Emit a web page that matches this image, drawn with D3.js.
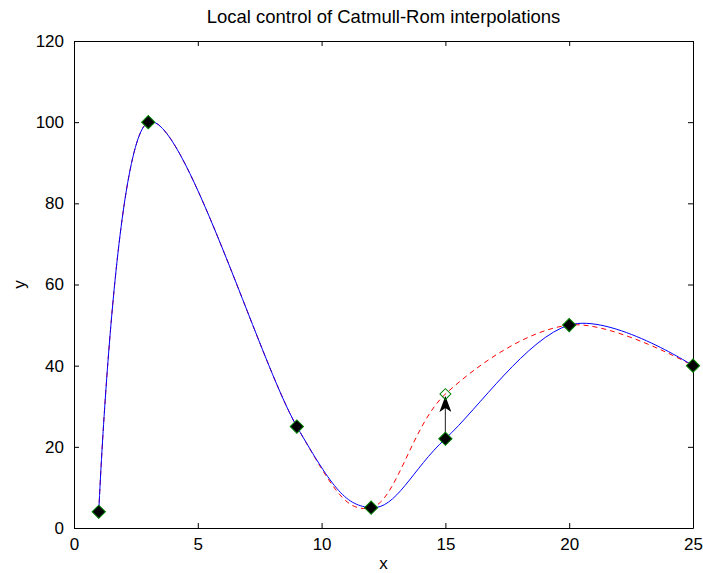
<!DOCTYPE html>
<html>
<head>
<meta charset="utf-8">
<script src="https://cdn.jsdelivr.net/npm/d3@7"></script>
<style>
    body { margin: 0; background: #fff; }
    text { font-family: Arial, "Liberation Sans", sans-serif; fill: #000; }
    .axis path, .axis line { stroke: #000; }
</style>
</head>
<body>
<svg id="chart" width="703" height="573"></svg>
<script>
// control points of the interpolation
const xs = [1, 3, 9, 12, 15, 20, 25];
const ys = [4, 100, 25, 5, 22, 50, 40];
// the same points after moving the fifth one up
const ysMoved = [4, 100, 25, 5, 33, 50, 40];
const movedIndex = 4;

const xTicks = [0, 5, 10, 15, 20, 25];
const yTicks = [0, 20, 40, 60, 80, 100, 120];

const svg = d3.select('#chart');
const width = +svg.attr('width');
const height = +svg.attr('height');
const margin = { top: 41, bottom: 45, left: 74, right: 10 };
const innerWidth = width - margin.left - margin.right;
const innerHeight = height - margin.top - margin.bottom;
const g = svg.append('g')
        .attr('transform', `translate(${margin.left}, ${margin.top})`);

// scales
const xScale = d3.scaleLinear().domain([0, 25]).range([0, innerWidth]);
const yScale = d3.scaleLinear().domain([0, 120]).range([innerHeight, 0]);

// axes with inward ticks on all four sides
const tickSizeInner = -5;
const mk = (axis, scale, ticks) => axis(scale)
        .tickValues(ticks)
        .tickSizeInner(tickSizeInner)
        .tickSizeOuter(0)
        .tickPadding(10)
        .tickFormat(d3.format('d'));

g.append('g').attr('class', 'axis')
        .attr('transform', `translate(0, ${innerHeight})`)
        .call(mk(d3.axisBottom, xScale, xTicks));
g.append('g').attr('class', 'axis')
        .call(mk(d3.axisLeft, yScale, yTicks));
// top and right: ticks only, no labels
g.append('g').attr('class', 'axis mirror')
        .call(mk(d3.axisTop, xScale, xTicks));
g.append('g').attr('class', 'axis mirror')
        .attr('transform', `translate(${innerWidth}, 0)`)
        .call(mk(d3.axisRight, yScale, yTicks));
g.selectAll('.mirror text').remove();
g.selectAll('.axis text')
        .style('font-size', '17px')
        .style('font-family', 'Arial, "Liberation Sans", sans-serif');

// labels and title
svg.append('text')
        .attr('x', margin.left + innerWidth / 2)
        .attr('y', 23)
        .attr('text-anchor', 'middle')
        .style('font-size', '18.5px')
        .text('Local control of Catmull-Rom interpolations');
svg.append('text')
        .attr('x', margin.left + innerWidth / 2)
        .attr('y', 569)
        .attr('text-anchor', 'middle')
        .style('font-size', '17px')
        .text('x');
svg.append('text')
        .attr('transform', `translate(25, ${margin.top + innerHeight / 2}) rotate(-90)`)
        .attr('text-anchor', 'middle')
        .style('font-size', '17px')
        .text('y');

// curves
const line = d3.line()
        .x(d => xScale(d[0]))
        .y(d => yScale(d[1]))
        .curve(d3.curveCatmullRom.alpha(0));

g.append('path')
        .datum(d3.zip(xs, ysMoved))
        .attr('d', line)
        .attr('fill', 'none')
        .attr('stroke', '#ff0000')
        .attr('stroke-width', 1)
        .attr('stroke-dasharray', '5,4');
g.append('path')
        .datum(d3.zip(xs, ys))
        .attr('d', line)
        .attr('fill', 'none')
        .attr('stroke', '#0000ff')
        .attr('stroke-width', 1);

// arrow from the old point to the moved one
svg.append('defs').append('marker')
        .attr('id', 'head')
        .attr('viewBox', '0 -6 16 12')
        .attr('refX', 15)
        .attr('refY', 0)
        .attr('markerWidth', 16)
        .attr('markerHeight', 12)
        .attr('markerUnits', 'userSpaceOnUse')
        .attr('orient', 'auto')
        .append('path')
        .attr('d', 'M0,-6L16,0L0,6L4,0Z')
        .attr('fill', '#000');
g.append('line')
        .attr('x1', xScale(xs[movedIndex]))
        .attr('y1', yScale(ys[movedIndex]))
        .attr('x2', xScale(xs[movedIndex]))
        .attr('y2', yScale(ysMoved[movedIndex]) + 3)
        .attr('stroke', '#444')
        .attr('stroke-width', 1.2)
        .attr('marker-end', 'url(#head)');

// markers
const diamond = d3.symbol().type(d3.symbolSquare).size(88);
g.selectAll('path.point')
        .data(d3.zip(xs, ys))
        .enter()
        .append('path')
        .attr('class', 'point')
        .attr('d', diamond)
        .attr('transform', d => `translate(${xScale(d[0])}, ${yScale(d[1])}) rotate(45)`)
        .attr('fill', '#000')
        .attr('stroke', '#008000')
        .attr('stroke-width', 1);
g.append('path')
        .attr('d', d3.symbol().type(d3.symbolSquare).size(60)())
        .attr('transform', `translate(${xScale(xs[movedIndex])}, ${yScale(ysMoved[movedIndex])}) rotate(45)`)
        .attr('fill', 'none')
        .attr('stroke', '#008000')
        .attr('stroke-width', 1);
</script>
</body>
</html>
